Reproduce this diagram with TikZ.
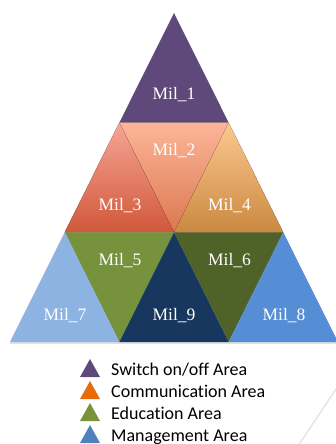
\documentclass[tikz,border=0pt]{standalone}
\usepackage{fontspec}
\newfontfamily\legendfont[Ligatures=NoCommon, Contextuals=NoAlternate]{Carlito}
\newfontfamily\milfont{Liberation Serif}
\usetikzlibrary{positioning}
\definecolor{milpurple}{HTML}{5F497A}
\definecolor{miltwotop}{HTML}{FDB598}
\definecolor{miltwobot}{HTML}{DA7850}
\definecolor{milthreetop}{HTML}{F6A596}
\definecolor{milthreebot}{HTML}{D0583A}
\definecolor{milfourtop}{HTML}{FCC790}
\definecolor{milfourbot}{HTML}{CB8940}
\definecolor{milgreen}{HTML}{76923C}
\definecolor{mildarkgreen}{HTML}{4F6228}
\definecolor{milnavy}{HTML}{17375E}
\definecolor{millightblue}{HTML}{8DB3E2}
\definecolor{milblue}{HTML}{558ED5}
\definecolor{legorange}{HTML}{E46C0A}
\definecolor{leggreen}{HTML}{77933C}
\definecolor{legblue}{HTML}{4F81BD}
\tikzstyle{tile} = [line join=miter]
\tikzstyle{milname} = [text=white, font=\milfont\fontsize{17.5}{17.5}\selectfont, anchor=base, inner sep=0pt]
\tikzstyle{legtext} = [font=\legendfont\fontsize{18}{18}\selectfont, anchor=base west, inner sep=0pt]

\begin{document}
\begin{tikzpicture}[x=1pt, y=-1pt]
    \useasboundingbox (0,0) rectangle (336,444);
    % Corners of the tiles
    \coordinate (top) at (174,13);
    \coordinate (r1l) at (119.3,122.7);
    \coordinate (r1r) at (228.7,122.7);
    \coordinate (r2l) at (64.7,232.3);
    \coordinate (r2m) at (174,232.3);
    \coordinate (r2r) at (283.3,232.3);
    \coordinate (r3a) at (10,342);
    \coordinate (r3b) at (119.3,342);
    \coordinate (r3c) at (228.7,342);
    \coordinate (r3d) at (338,342);

    % Shadow under the base
    \fill [black!12] (10,342) rectangle (338,344);

    % Fill the tiles
    \fill [tile, milpurple] (top) -- (r1l) -- (r1r) -- cycle;
    \fill [tile, top color=miltwotop, bottom color=miltwobot] (r1l) -- (r1r) -- (r2m) -- cycle;
    \fill [tile, top color=milthreetop, bottom color=milthreebot] (r1l) -- (r2l) -- (r2m) -- cycle;
    \fill [tile, top color=milfourtop, bottom color=milfourbot] (r1r) -- (r2m) -- (r2r) -- cycle;
    \fill [tile, milgreen] (r2l) -- (r2m) -- (r3b) -- cycle;
    \fill [tile, mildarkgreen] (r2m) -- (r2r) -- (r3c) -- cycle;
    \fill [tile, millightblue] (r2l) -- (r3a) -- (r3b) -- cycle;
    \fill [tile, milnavy] (r2m) -- (r3b) -- (r3c) -- cycle;
    \fill [tile, milblue] (r2r) -- (r3c) -- (r3d) -- cycle;

    % Place the names
    \node [milname] (mil1) at (174,99.5) {Mil\_1};
    \node [milname] (mil2) at (174,155) {Mil\_2};
    \node [milname] (mil3) at (120,210.5) {Mil\_3};
    \node [milname] (mil4) at (229.5,210.5) {Mil\_4};
    \node [milname] (mil5) at (120,265.5) {Mil\_5};
    \node [milname] (mil6) at (229.5,265.5) {Mil\_6};
    \node [milname] (mil7) at (65,320.5) {Mil\_7};
    \node [milname] (mil9) at (174,320.5) {Mil\_9};
    \node [milname] (mil8) at (284,320.5) {Mil\_8};

    % Legend
    \node [legtext] (leg1) at (111,375) {Switch on/off Area};
    \node [legtext] (leg2) at (111,397) {Communication Area};
    \node [legtext] (leg3) at (111,419) {Education Area};
    \node [legtext] (leg4) at (111,441) {Management Area};
    \fill [milpurple] ([shift={(-31,2)}]leg1.base west) -- ++(20,0) -- ++(-10,-18) -- cycle;
    \fill [legorange] ([shift={(-31,2)}]leg2.base west) -- ++(20,0) -- ++(-10,-18) -- cycle;
    \fill [leggreen] ([shift={(-31,2)}]leg3.base west) -- ++(20,0) -- ++(-10,-18) -- cycle;
    \fill [legblue] ([shift={(-31,2)}]leg4.base west) -- ++(20,0) -- ++(-10,-18) -- cycle;

    % Faint page edge
    \draw [black!10, line width=1.5pt] (298,446) -- (338,386);
\end{tikzpicture}
\end{document}
